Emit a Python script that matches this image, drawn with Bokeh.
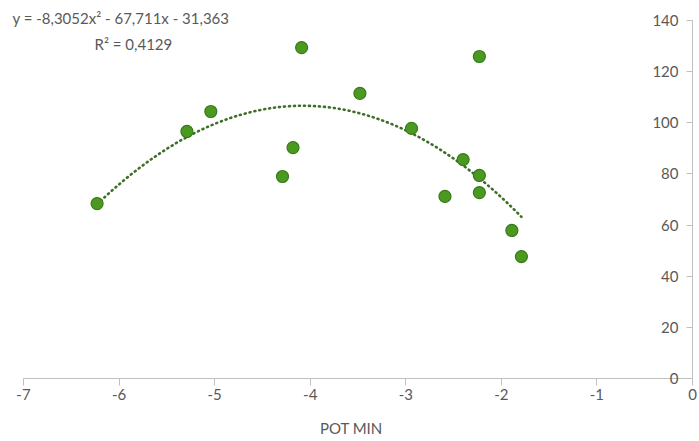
from bokeh.plotting import figure
from bokeh.models import LinearAxis, Range1d, FixedTicker, Label, ColumnDataSource
from bokeh.embed import file_html
from bokeh.resources import INLINE
import numpy as np

# data
pot_min = [-6.23, -5.29, -5.04, -4.09, -4.29, -4.18, -3.48, -2.94, -2.59, -2.40, -2.23, -2.23, -2.23, -1.89, -1.79]
values = [68.4, 96.6, 104.4, 129.4, 79.0, 90.3, 111.5, 97.8, 71.2, 85.6, 125.9, 79.4, 72.7, 57.9, 47.7]
x_ticks = [-7, -6, -5, -4, -3, -2, -1, 0]
y_ticks = [0, 20, 40, 60, 80, 100, 120, 140]
# trendline coefficients shown on the chart: y = a x^2 + b x + c
trend_a, trend_b, trend_c = -8.3052, -67.711, -31.363
eq_text = "y = -8,3052x\u00b2 - 67,711x - 31,363"
r2_text = "R\u00b2 = 0,4129"
x_label = "POT MIN"

FONT = "Lato"
GRAY = "#595959"
AXIS = "#bfbfbf"

p = figure(width=699, height=441, output_backend="svg", toolbar_location=None,
           x_range=Range1d(-7.2406, 0.0732), y_range=Range1d(-24.6, 147.8),
           min_border_left=0, min_border_right=0, min_border_top=0, min_border_bottom=0)
p.outline_line_color = None
p.xgrid.visible = False
p.ygrid.visible = False
p.xaxis.visible = False
p.yaxis.visible = False

xa = LinearAxis(fixed_location=0, ticker=FixedTicker(ticks=x_ticks), bounds=(-7, 0))
xa.major_label_overrides = {t: str(t) for t in x_ticks}
xa.axis_line_color = AXIS
xa.major_tick_line_color = AXIS
xa.major_tick_out = 7
xa.major_tick_in = 0
xa.minor_tick_line_color = None
xa.major_label_text_font = FONT
xa.major_label_text_font_size = "15px"
xa.major_label_text_color = GRAY
xa.major_label_standoff = 3
p.add_layout(xa, "below")

ya = LinearAxis(fixed_location=0, ticker=FixedTicker(ticks=y_ticks), bounds=(0, 140))
ya.axis_line_color = AXIS
ya.major_tick_line_color = AXIS
ya.major_tick_out = 6
ya.major_tick_in = 0
ya.minor_tick_line_color = None
ya.major_label_text_font = FONT
ya.major_label_text_font_size = "15px"
ya.major_label_text_color = GRAY
ya.major_label_standoff = 8
p.add_layout(ya, "left")

# trendline evaluated from the displayed equation over the data's span
tx = np.linspace(min(pot_min), max(pot_min), 200)
ty = trend_a * tx**2 + trend_b * tx + trend_c
p.line(tx, ty, line_color="#3f6e28", line_width=2.6, line_dash="1 4", line_cap="round")

src = ColumnDataSource(dict(x=pot_min, y=values))
p.scatter("x", "y", source=src, size=12, fill_color="#4a9a22", line_color="#3a7a18", line_width=1.2)

p.add_layout(Label(x=-7, y=140.8, x_offset=-11, text=eq_text, text_font=FONT, text_font_size="15px",
                   text_color=GRAY, text_baseline="middle", text_align="left"))
p.add_layout(Label(x=-5.85, y=130.6, text=r2_text, text_font=FONT, text_font_size="15px",
                   text_color=GRAY, text_baseline="middle", text_align="center"))
p.add_layout(Label(x=-3.57, y=-19.4, text=x_label, text_font=FONT, text_font_size="15px",
                   text_color=GRAY, text_baseline="middle", text_align="center"))

open("out.html", "w").write(file_html(p, INLINE))
